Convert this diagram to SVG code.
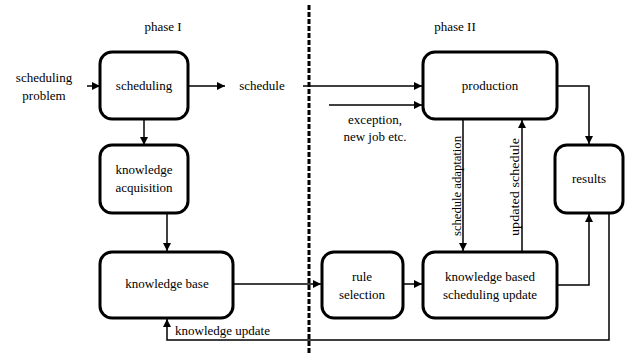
<svg xmlns="http://www.w3.org/2000/svg" width="627" height="354" viewBox="0 0 627 354" font-family="'Liberation Serif', 'Times New Roman', Times, serif">
<style>
text{font-family:"Liberation Serif","Times New Roman",Times,serif;font-size:13px;fill:#000;}
.c{text-anchor:middle;}
.v{font-size:11.5px;}
.box{fill:#fff;stroke:#000;stroke-width:3;}
.ln{fill:none;stroke:#000;stroke-width:1.5;}
</style>
<defs>
<marker id="ah" viewBox="0 0 10 10" refX="10" refY="5" markerWidth="9" markerHeight="8" markerUnits="userSpaceOnUse" orient="auto">
<path d="M0,0 L10,5 L0,10 z" fill="#000"/>
</marker>
</defs>
<rect width="627" height="354" fill="#fff"/>
<text class="c" x="163" y="31">phase I</text>
<text class="c" x="455" y="31">phase II</text>
<line x1="309" y1="5" x2="309" y2="354" stroke="#000" stroke-width="3" stroke-dasharray="5 2"/>
<g id="connectors">
<path class="ln" d="M87,86 H100" marker-end="url(#ah)"/>
<path class="ln" d="M188,86 H225" marker-end="url(#ah)"/>
<path class="ln" d="M303,86 H422" marker-end="url(#ah)"/>
<path class="ln" d="M329,105 H422" marker-end="url(#ah)"/>
<path class="ln" d="M144,119 V145" marker-end="url(#ah)"/>
<path class="ln" d="M167,213 V251" marker-end="url(#ah)"/>
<path class="ln" d="M233,284 H321" marker-end="url(#ah)"/>
<path class="ln" d="M403,284 H422" marker-end="url(#ah)"/>
<path class="ln" d="M557,86 H589 V144" marker-end="url(#ah)"/>
<path class="ln" d="M557,285 H589 V214" marker-end="url(#ah)"/>
<path class="ln" d="M463,119 V251" marker-end="url(#ah)"/>
<path class="ln" d="M522,252 V120" marker-end="url(#ah)"/>
<path class="ln" d="M609,213 V340 H167 V319" marker-end="url(#ah)"/>
<text x="44" y="82" class="c">scheduling</text>
<text x="44" y="100" class="c">problem</text>
<text x="262" y="90" class="c">schedule</text>
<text x="375" y="124" class="c">exception,</text>
<text x="375" y="141" class="c">new job etc.</text>
<text x="175" y="335">knowledge update</text>
<text class="v c" transform="translate(461,186) rotate(-90)" textLength="100" lengthAdjust="spacingAndGlyphs">schedule adaptation</text>
<text class="v c" transform="translate(519,187) rotate(-90)" textLength="98" lengthAdjust="spacingAndGlyphs">updated schedule</text>
</g>
<g id="scheduling">
<rect class="box" x="100" y="52" width="88" height="67" rx="12"/>
<text class="c" x="144" y="90">scheduling</text>
</g>
<g id="knowledge-acquisition">
<rect class="box" x="100" y="145" width="88" height="68" rx="12"/>
<text class="c" x="144" y="174">knowledge</text>
<text class="c" x="144" y="192">acquisition</text>
</g>
<g id="knowledge-base">
<rect class="box" x="100" y="252" width="133" height="66" rx="12"/>
<text class="c" x="167" y="288">knowledge base</text>
</g>
<g id="production">
<rect class="box" x="423" y="52" width="134" height="67" rx="12"/>
<text class="c" x="490" y="90">production</text>
</g>
<g id="results">
<rect class="box" x="555" y="145" width="68" height="68" rx="12"/>
<text class="c" x="589" y="183">results</text>
</g>
<g id="rule-selection">
<rect class="box" x="322" y="252" width="81" height="66" rx="12"/>
<text class="c" x="362" y="281">rule</text>
<text class="c" x="362" y="299">selection</text>
</g>
<g id="kb-scheduling-update">
<rect class="box" x="423" y="252" width="134" height="66" rx="12"/>
<text class="c" x="490" y="281">knowledge based</text>
<text class="c" x="490" y="299">scheduling update</text>
</g>
</svg>
